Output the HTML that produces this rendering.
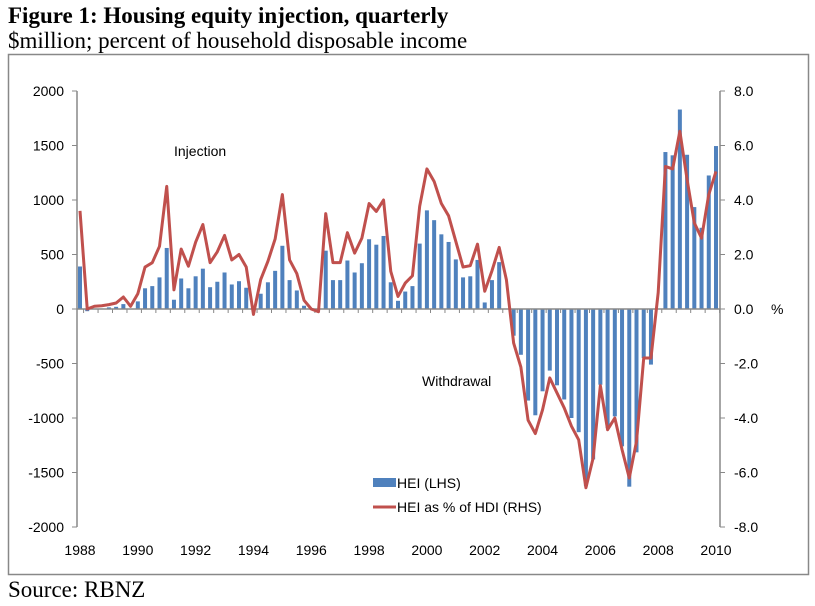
<!DOCTYPE html>
<html><head><meta charset="utf-8"><style>
body{margin:0;background:#fff;width:815px;height:606px;overflow:hidden;position:relative;font-family:"Liberation Serif",serif}
.t{position:absolute;left:8px;white-space:nowrap;color:#000;line-height:1}
svg text{font-family:"Liberation Sans",sans-serif;font-size:14px;fill:#000}
</style></head><body>
<div class="t" style="top:4px;font-size:23px;font-weight:bold">Figure 1: Housing equity injection, quarterly</div>
<div class="t" style="top:29px;font-size:23px">$million; percent of household disposable income</div>
<div class="t" style="top:578px;font-size:23px">Source: RBNZ</div>
<svg id="c" width="815" height="606" style="position:absolute;left:0;top:0"></svg>
<script>
const hei=[390,-20,5,5,15,20,45,0,70,190,210,290,560,85,280,190,300,370,200,250,335,225,255,195,0,140,245,350,580,265,170,30,0,0,535,265,265,445,335,420,640,590,670,245,75,160,210,600,905,815,685,615,455,290,300,450,60,265,430,0,-245,-420,-840,-975,-755,-565,-700,-830,-1000,-1130,-1625,-1380,-695,-1090,-985,-1260,-1630,-1315,-450,-510,0,1440,1410,1830,1415,935,745,1225,1495];
const pct=[3.6,0,0.1,0.12,0.16,0.22,0.44,0.1,0.56,1.54,1.7,2.3,4.5,0.7,2.2,1.57,2.45,3.1,1.7,2.1,2.7,1.8,2.0,1.54,-0.2,1.08,1.75,2.57,4.2,1.8,1.3,0.32,0,-0.1,3.5,1.7,1.7,2.8,2.05,2.6,3.87,3.58,4.0,1.38,0.46,0.95,1.22,3.77,5.14,4.68,3.87,3.42,2.48,1.54,1.59,2.38,0.65,1.4,2.26,1.07,-1.25,-2.13,-4.08,-4.57,-3.7,-2.53,-3.08,-3.63,-4.3,-4.8,-6.56,-5.47,-2.81,-4.43,-4.0,-5.16,-6.2,-4.86,-1.8,-1.8,0.6,5.23,5.14,6.52,4.75,3.16,2.6,4.2,5.05];
const leftTicks=[2000,1500,1000,500,0,-500,-1000,-1500,-2000];
const rightTicks=[8,6,4,2,0,-2,-4,-6,-8];
const yearLabels=[1988,1990,1992,1994,1996,1998,2000,2002,2004,2006,2008,2010];
const NS='http://www.w3.org/2000/svg';
const svg=document.getElementById('c');
const xq=i=>80+i*(636/88);
const xy=yr=>80+(yr-1988)*(636/22);
const yL=v=>309-v*(218/2000);
const yR=v=>309-v*(218/8);
function mk(t,a,p){const e=document.createElementNS(NS,t);for(const k in a)e.setAttribute(k,a[k]);(p||svg).appendChild(e);return e;}
const fr=mk('rect',{x:8.5,y:54.5,width:800,height:520,fill:'none',stroke:'#888','stroke-width':1.5});


hei.forEach((v,i)=>{const y0=yL(0),y1=yL(v);
const b=mk('rect',{x:xq(i)-2,y:Math.min(y0,y1),width:4,height:Math.max(Math.abs(y1-y0),0.1),fill:'#4f81bd'});

});
const la=mk('line',{x1:77,y1:yL(2000),x2:77,y2:yL(-2000),stroke:'#888','stroke-width':1.5});


const ra=mk('line',{x1:720,y1:yR(8),x2:720,y2:yR(-8),stroke:'#888','stroke-width':1.5});


const xa=mk('line',{x1:77,y1:309,x2:720,y2:309,stroke:'#888','stroke-width':1.5});


for(let i=0;i<=88;i++){if(i%2==0)mk('line',{x1:xq(i)+3.6,y1:309,x2:xq(i)+3.6,y2:313,stroke:'#888'});}
leftTicks.forEach(v=>{mk('line',{x1:72,y1:yL(v),x2:77,y2:yL(v),stroke:'#888'});
const t=mk('text',{x:64,y:yL(v)+5,'text-anchor':'end'});t.textContent=v;

});
rightTicks.forEach(v=>{mk('line',{x1:720,y1:yR(v),x2:725,y2:yR(v),stroke:'#888'});
const t=mk('text',{x:734,y:yR(v)+5});t.textContent=v.toFixed(1);

});
yearLabels.forEach(yr=>{const t=mk('text',{x:xy(yr),y:555,'text-anchor':'middle'});t.textContent=yr;

});
const pc=mk('text',{x:771,y:314});pc.textContent='%';


const ln=mk('polyline',{points:pct.map((v,i)=>xq(i)+','+yR(v)).join(' '),fill:'none',stroke:'#c0504d','stroke-width':3,'stroke-linejoin':'round'});


const a1=mk('text',{x:174,y:156});a1.textContent='Injection';


const a2=mk('text',{x:422,y:386});a2.textContent='Withdrawal';


const g=mk('g',{});


mk('rect',{x:373,y:478,width:23,height:9,fill:'#4f81bd'},g);
const l1=mk('text',{x:397,y:488},g);l1.textContent='HEI (LHS)';


mk('line',{x1:373,y1:507,x2:396,y2:507,stroke:'#c0504d','stroke-width':3},g);
const l2=mk('text',{x:397,y:512},g);l2.textContent='HEI as % of HDI (RHS)';


</script>
</body></html>
